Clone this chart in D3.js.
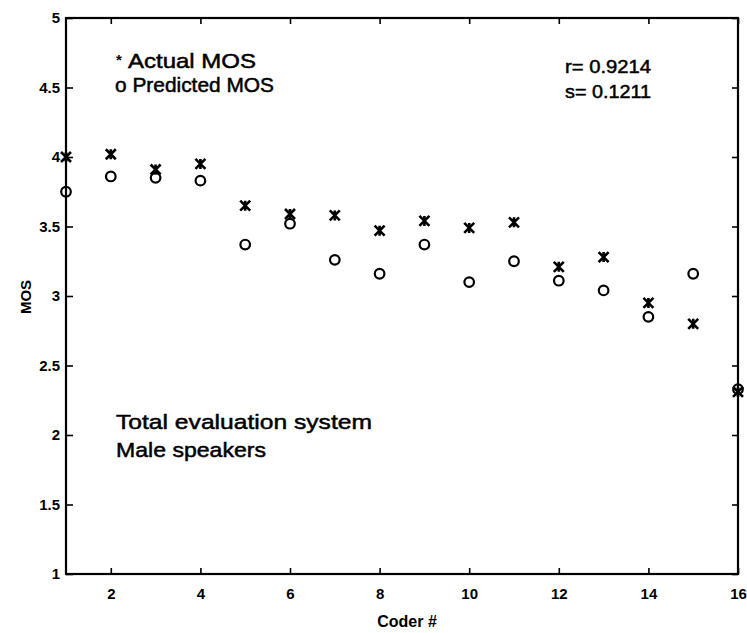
<!DOCTYPE html>
<html><head><meta charset="utf-8">
<script src="https://cdn.jsdelivr.net/npm/d3@7"></script>
<style>html,body{margin:0;padding:0;background:#fff;}svg{display:block;}</style>
</head><body>
<svg id="c" width="747" height="633"></svg>
<script>
const coders = [1,2,3,4,5,6,7,8,9,10,11,12,13,14,15,16];
const actualMOS = [4.00,4.02,3.91,3.95,3.65,3.59,3.58,3.47,3.54,3.49,3.53,3.21,3.28,2.95,2.80,2.31];
const predictedMOS = [3.75,3.86,3.85,3.83,3.37,3.52,3.26,3.16,3.37,3.10,3.25,3.11,3.04,2.85,3.16,2.33];
const xTicks = [2,4,6,8,10,12,14,16];
const yTicks = [1,1.5,2,2.5,3,3.5,4,4.5,5];
const legendLabels = ["Actual MOS","o Predicted MOS"];
const statsLabels = ["r= 0.9214","s= 0.1211"];
const noteLabels = ["Total evaluation system","Male speakers"];

const svg = d3.select("#c");
const L=66,R=738,T=18,B=574;
const x = d3.scaleLinear().domain([1,16]).range([L,R]);
const y = d3.scaleLinear().domain([1,5]).range([B,T]);
const font = "'Liberation Sans', Arial, Helvetica, sans-serif";

svg.append("rect").attr("x",L).attr("y",T).attr("width",R-L).attr("height",B-T)
  .attr("fill","none").attr("stroke","#000").attr("stroke-width",2.2);

const ax = svg.append("g").attr("font-family",font);
const gBottom = ax.append("g").attr("transform",`translate(0,${B})`)
  .call(d3.axisBottom(x).tickValues(xTicks).tickSizeInner(-6).tickSizeOuter(0).tickPadding(11).tickFormat(d3.format("d")));
const gTop = ax.append("g").attr("transform",`translate(0,${T})`)
  .call(d3.axisTop(x).tickValues(xTicks).tickSizeInner(-6).tickSizeOuter(0).tickFormat(""));
const gLeft = ax.append("g").attr("transform",`translate(${L},0)`)
  .call(d3.axisLeft(y).tickValues(yTicks).tickSizeInner(-7).tickSizeOuter(0).tickPadding(6).tickFormat(d=>String(d)));
const gRight = ax.append("g").attr("transform",`translate(${R},0)`)
  .call(d3.axisRight(y).tickValues(yTicks).tickSizeInner(-6).tickSizeOuter(0).tickFormat(""));
[gBottom,gTop,gLeft,gRight].forEach(g=>{
  g.select(".domain").remove();
  g.selectAll(".tick line").attr("stroke","#000").attr("stroke-width",1.6);
  g.selectAll(".tick text").attr("font-size",15).attr("font-weight","bold").attr("fill","#000");
});
gBottom.selectAll(".tick text").attr("dy","0.9em");

svg.append("text").attr("x",(L+R)/2+5).attr("y",627).attr("text-anchor","middle")
  .attr("font-family",font).attr("font-size",16).attr("font-weight","bold").text("Coder #");
svg.append("text").attr("transform","translate(31,297) rotate(-90)").attr("text-anchor","middle")
  .attr("font-family",font).attr("font-size",15).attr("font-weight","bold").text("MOS");

const gm = svg.append("g");
coders.forEach((c,i)=>{
  const cx=x(c), cy=y(actualMOS[i]), s=5;
  const p = `M${cx-s},${cy-s}L${cx+s},${cy+s}M${cx+s},${cy-s}L${cx-s},${cy+s}M${cx},${cy-s}L${cx},${cy+s}`;
  gm.append("path").attr("d",p).attr("stroke","#000").attr("stroke-width",2.6).attr("fill","none");
});
gm.selectAll("circle").data(coders).join("circle")
  .attr("cx",d=>x(d)).attr("cy",(d,i)=>y(predictedMOS[i])).attr("r",4.8)
  .attr("fill","none").attr("stroke","#000").attr("stroke-width",2.2);

function txt(s,xx,yy,size,len){
  svg.append("text").attr("x",xx).attr("y",yy).attr("font-family",font).attr("font-size",size)
    .attr("textLength",len).attr("lengthAdjust","spacingAndGlyphs").attr("fill","#000")
    .attr("stroke","#000").attr("stroke-width",0.5).text(s);
}
// small raised asterisk before "Actual MOS"
svg.append("text").attr("x",116).attr("y",65).attr("font-family",font).attr("font-size",15)
  .attr("font-weight","bold").text("*");
txt(legendLabels[0],128,68,21,128);
txt(legendLabels[1],115,92,21,159);
txt(statsLabels[0],565,73,19,86);
txt(statsLabels[1],565,98,19,86);
txt(noteLabels[0],116,429,21,256);
txt(noteLabels[1],116,457,21,150);
</script>
</body></html>
